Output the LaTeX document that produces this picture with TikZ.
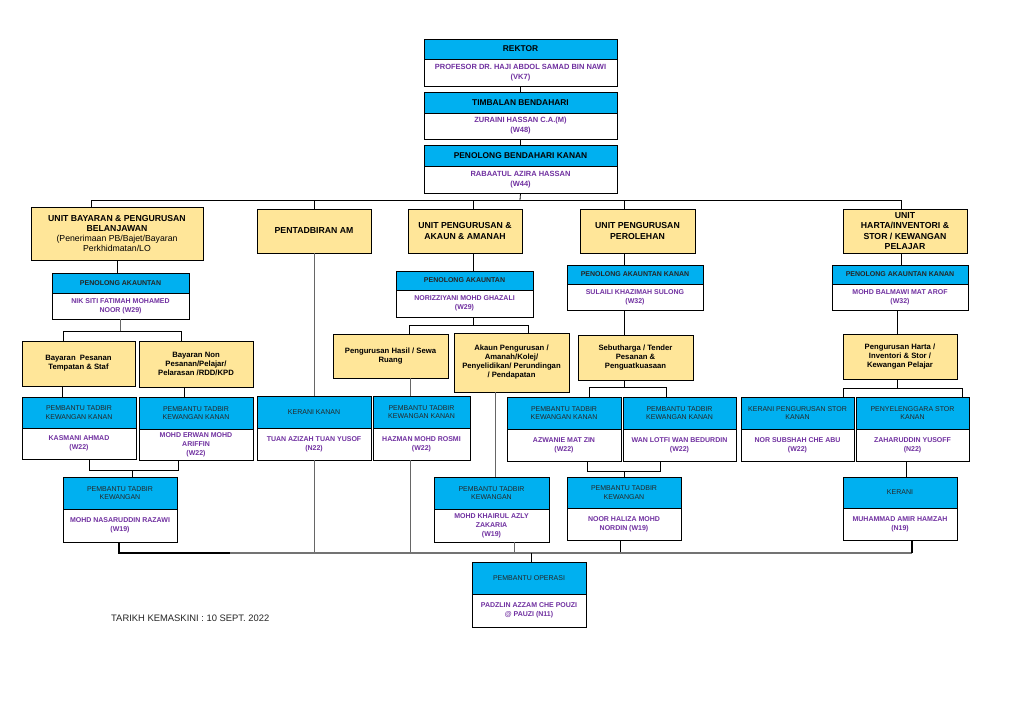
\documentclass[tikz,border=0pt]{standalone}
\usepackage{fontspec}
\setmainfont{Liberation Sans}
\definecolor{hblue}{RGB}{0,176,240}
\definecolor{npurple}{RGB}{112,48,160}
\definecolor{uyel}{RGB}{255,230,153}
\newcommand\bx[7]{\node[#6, minimum width={(#3-#2)*1pt}, minimum height={(#5-#4)*1pt}] (#1) at ({(#2+#3)/2},{(#4+#5)/2}) {#7};}
\begin{document}
\begin{tikzpicture}[x=1pt,y=-1pt,
  base/.style={draw=black, line width=0.7pt, inner sep=1pt, align=center},
  hbig/.style={base, fill=hblue, font=\bfseries\fontsize{8.4}{10}\selectfont},
  nbig/.style={base, fill=white, text=npurple, font=\bfseries\fontsize{7.5}{10}\selectfont},
  ubox/.style={base, fill=uyel, font=\bfseries\fontsize{8.7}{10.3}\selectfont},
  sbox/.style={base, fill=uyel, font=\bfseries\fontsize{7.7}{9}\selectfont},
  hsm/.style={base, fill=hblue, text=black!85, font=\fontsize{7}{8.5}\selectfont},
  hsmb/.style={base, fill=hblue, text=black!85, font=\bfseries\fontsize{7}{8.5}\selectfont},
  nsm/.style={base, fill=white, text=npurple, font=\bfseries\fontsize{7}{9}\selectfont},
  ln/.style={draw=black, line width=0.8pt},
  lng/.style={draw=black!60, line width=0.8pt}]
\fill[white] (0,0) rectangle (1036,709);
\useasboundingbox (0,0) rectangle (1036,709);

% ---------- coordinates for connectors ----------
\coordinate (tb) at (520,200);
\coordinate (tbL) at (91,200);
\coordinate (tbR) at (901,200);
\coordinate (xA) at (473,200);
\coordinate (xP) at (624,200);
\coordinate (xL) at (117,0);
\coordinate (bl1) at (63,331);
\coordinate (bl2) at (181,331);
\coordinate (xk) at (62,0);
\coordinate (xe) at (184,0);
\coordinate (b2l) at (89,470);
\coordinate (b2r) at (178,470);
\coordinate (b2c) at (132,470);
\coordinate (bbL) at (119,553);
\coordinate (bbM) at (230,553);
\coordinate (bbR) at (912,553);
\coordinate (bm1) at (409,325);
\coordinate (bm2) at (528,325);
\coordinate (xh) at (410,0);
\coordinate (xk2) at (495,0);
\coordinate (xk3) at (514,0);
\coordinate (bp1) at (589,387);
\coordinate (bp2) at (666,387);
\coordinate (bq1) at (587,471);
\coordinate (bq2) at (660,471);
\coordinate (xn) at (620,0);
\coordinate (xr) at (897,0);
\coordinate (br1) at (843,388);
\coordinate (br2) at (962,388);
\coordinate (xz) at (906,0);
\coordinate (xo) at (531,553);

% ---------- boxes ----------
\bx{rekh}{424}{617}{39}{59}{hbig}{REKTOR}
\bx{rekb}{424}{617}{59}{86}{nbig}{PROFESOR DR. HAJI ABDOL SAMAD BIN NAWI\\(VK7)}
\bx{timh}{424}{617}{92}{113}{hbig}{TIMBALAN BENDAHARI}
\bx{timb}{424}{617}{113}{139}{nbig}{ZURAINI HASSAN C.A.(M)\\(W48)}
\bx{pbkh}{424}{617}{145}{166}{hbig}{PENOLONG BENDAHARI KANAN}
\bx{pbkb}{424}{617}{166}{193}{nbig}{RABAATUL AZIRA HASSAN\\(W44)}

\bx{ubay}{31}{203}{207}{260}{ubox}{UNIT BAYARAN \& PENGURUSAN\\BELANJAWAN\\\mdseries (Penerimaan PB/Bajet/Bayaran\\\mdseries Perkhidmatan/LO}
\bx{pent}{257}{371}{209}{253}{ubox}{PENTADBIRAN AM}
\bx{uaka}{408}{522}{209}{253}{ubox}{UNIT PENGURUSAN \&\\AKAUN \& AMANAH}
\bx{uper}{580}{695}{209}{253}{ubox}{UNIT PENGURUSAN\\PEROLEHAN}
\bx{uhar}{843}{967}{209}{253}{ubox}{UNIT\\HARTA/INVENTORI \&\\STOR / KEWANGAN\\PELAJAR}

% left column
\bx{paLh}{52}{189}{273}{293}{hsmb}{PENOLONG AKAUNTAN}
\bx{paLb}{52}{189}{293}{319}{nsm}{NIK SITI FATIMAH MOHAMED\\NOOR (W29)}
\bx{bpt}{22}{135}{341}{386}{sbox}{Bayaran\ \ Pesanan\\Tempatan \& Staf}
\bx{bnp}{139}{253}{341}{387}{sbox}{Bayaran Non\\Pesanan/Pelajar/\\Pelarasan /RDD/KPD}
\bx{kash}{22}{136}{397}{428}{hsm}{PEMBANTU TADBIR\\KEWANGAN KANAN}
\bx{kasb}{22}{136}{428}{459}{nsm}{KASMANI AHMAD\\(W22)}
\bx{erwh}{139}{253}{397}{429}{hsm}{PEMBANTU TADBIR\\KEWANGAN KANAN}
\bx{erwb}{139}{253}{429}{460}{nsm}{MOHD ERWAN MOHD\\ARIFFIN\\(W22)}
\bx{nash}{63}{177}{477}{509}{hsm}{PEMBANTU TADBIR\\KEWANGAN}
\bx{nasb}{63}{177}{509}{542}{nsm}{MOHD NASARUDDIN RAZAWI\\(W19)}

% pentadbiran
\bx{kkh}{257}{371}{396}{428}{hsm}{KERANI KANAN}
\bx{kkb}{257}{371}{428}{460}{nsm}{TUAN AZIZAH TUAN YUSOF\\(N22)}

% akaun & amanah
\bx{paMh}{396}{533}{271}{290}{hsmb}{PENOLONG AKAUNTAN}
\bx{paMb}{396}{533}{290}{317}{nsm}{NORIZZIYANI MOHD GHAZALI\\(W29)}
\bx{phs}{333}{448}{334}{378}{sbox}{Pengurusan Hasil / Sewa\\Ruang}
\bx{apa}{454}{569}{333}{392}{sbox}{Akaun Pengurusan /\\Amanah/Kolej/\\Penyelidikan/ Perundingan\\/ Pendapatan}
\bx{hazh}{373}{470}{396}{428}{hsm}{PEMBANTU TADBIR\\KEWANGAN KANAN}
\bx{hazb}{373}{470}{428}{460}{nsm}{HAZMAN MOHD ROSMI\\(W22)}
\bx{khah}{434}{549}{477}{509}{hsm}{PEMBANTU TADBIR\\KEWANGAN}
\bx{khab}{434}{549}{509}{542}{nsm}{MOHD KHAIRUL AZLY\\ZAKARIA\\(W19)}

% perolehan
\bx{paPh}{567}{703}{265}{284}{hsmb}{PENOLONG AKAUNTAN KANAN}
\bx{paPb}{567}{703}{284}{310}{nsm}{SULAILI KHAZIMAH SULONG\\(W32)}
\bx{sbt}{578}{693}{335}{380}{sbox}{Sebutharga / Tender\\Pesanan \&\\Penguatkuasaan}
\bx{azwh}{507}{621}{397}{429}{hsm}{PEMBANTU TADBIR\\KEWANGAN KANAN}
\bx{azwb}{507}{621}{429}{461}{nsm}{AZWANIE MAT ZIN\\(W22)}
\bx{wanh}{623}{736}{397}{429}{hsm}{PEMBANTU TADBIR\\KEWANGAN KANAN}
\bx{wanb}{623}{736}{429}{461}{nsm}{WAN LOTFI WAN BEDURDIN\\(W22)}
\bx{nooh}{567}{681}{477}{508}{hsm}{PEMBANTU TADBIR\\KEWANGAN}
\bx{noob}{567}{681}{508}{540}{nsm}{NOOR HALIZA MOHD\\NORDIN (W19)}

% harta
\bx{paRh}{832}{968}{265}{284}{hsmb}{PENOLONG AKAUNTAN KANAN}
\bx{paRb}{832}{968}{284}{310}{nsm}{MOHD BALMAWI MAT AROF\\(W32)}
\bx{phi}{843}{957}{334}{379}{sbox}{Pengurusan Harta /\\Inventori \& Stor /\\Kewangan Pelajar}
\bx{nsbh}{741}{854}{397}{429}{hsm}{KERANI PENGURUSAN STOR\\KANAN}
\bx{nsbb}{741}{854}{429}{461}{nsm}{NOR SUBSHAH CHE ABU\\(W22)}
\bx{zahh}{856}{969}{397}{429}{hsm}{PENYELENGGARA STOR\\KANAN}
\bx{zahb}{856}{969}{429}{461}{nsm}{ZAHARUDDIN YUSOFF\\(N22)}
\bx{kerh}{843}{957}{477}{508}{hsm}{KERANI}
\bx{kerb}{843}{957}{508}{540}{nsm}{MUHAMMAD AMIR HAMZAH\\(N19)}

% bottom
\bx{poph}{472}{586}{562}{594}{hsm}{PEMBANTU OPERASI}
\bx{popb}{472}{586}{594}{627}{nsm}{PADZLIN AZZAM CHE POUZI\\@ PAUZI (N11)}

\node[anchor=west, inner sep=0pt, font=\fontsize{9.4}{11}\selectfont, text=black!85] (tarikh) at (111,618) {TARIKH KEMASKINI : 10 SEPT. 2022};

% ---------- connectors ----------
\draw[ln] (rekb.south) -- (timh.north);
\draw[ln] (timb.south) -- (pbkh.north);
\draw[ln] (pbkb.south) -- (tb);
\draw[ln] (tbL |- ubay.north) -- (tbL) -- (tbR) -- (tbR |- uhar.north);
\draw[ln] (pent.north |- tb) -- (pent.north);
\draw[ln] (xA) -- (xA |- uaka.north);
\draw[ln] (xP) -- (xP |- uper.north);

\draw[ln] (xL |- ubay.south) -- (xL |- paLh.north);
\draw[lng] (paLb.south) -- (paLb.south |- bl1);
\draw[ln] (bl1 |- bpt.north) -- (bl1) -- (bl2) -- (bl2 |- bnp.north);
\draw[ln] (xk |- bpt.south) -- (xk |- kash.north);
\draw[ln] (xe |- bnp.south) -- (xe |- erwh.north);
\draw[ln] (b2l |- kasb.south) -- (b2l) -- (b2r) -- (b2r |- erwb.south);
\draw[ln] (b2c) -- (b2c |- nash.north);

\draw[lng] (pent.south) -- (pent.south |- kkh.north);
\draw[lng] (kkb.south) -- (kkb.south |- bbL);

\draw[ln] (xA |- uaka.south) -- (xA |- paMh.north);
\draw[ln] (xA |- paMb.south) -- (xA |- bm1);
\draw[ln] (bm1 |- phs.north) -- (bm1) -- (bm2) -- (bm2 |- apa.north);
\draw[lng] (xh |- phs.south) -- (xh |- hazh.north);
\draw[lng] (xh |- hazb.south) -- (xh |- bbL);
\draw[lng] (xk2 |- apa.south) -- (xk2 |- khah.north);
\draw[lng] (xk3 |- khab.south) -- (xk3 |- bbL);

\draw[ln] (xP |- uper.south) -- (xP |- paPh.north);
\draw[ln] (xP |- paPb.south) -- (xP |- sbt.north);
\draw[ln] (xP |- sbt.south) -- (xP |- bp1);
\draw[ln] (bp1 |- azwh.north) -- (bp1) -- (bp2) -- (bp2 |- wanh.north);
\draw[ln] (bq1 |- azwb.south) -- (bq1) -- (bq2) -- (bq2 |- wanb.south);
\draw[ln] (xP |- bq1) -- (xP |- nooh.north);
\draw[ln] (xn |- noob.south) -- (xn |- bbL);

\draw[ln] (tbR |- uhar.south) -- (tbR |- paRh.north);
\draw[ln] (xr |- paRb.south) -- (xr |- phi.north);
\draw[ln] (xr |- phi.south) -- (xr |- br1);
\draw[ln] (br1 |- nsbh.north) -- (br1) -- (br2) -- (br2 |- zahh.north);
\draw[ln] (xz |- zahb.south) -- (xz |- kerh.north);

\draw[draw=black!55, line width=1.3pt] (bbL) -- (bbR);
\draw[draw=black, line width=1.3pt] (bbL |- nasb.south) -- (bbL) -- (bbM);
\draw[draw=black, line width=1.3pt] (bbR |- kerb.south) -- (bbR);
\draw[ln] (xo) -- (xo |- poph.north);
\end{tikzpicture}
\end{document}
